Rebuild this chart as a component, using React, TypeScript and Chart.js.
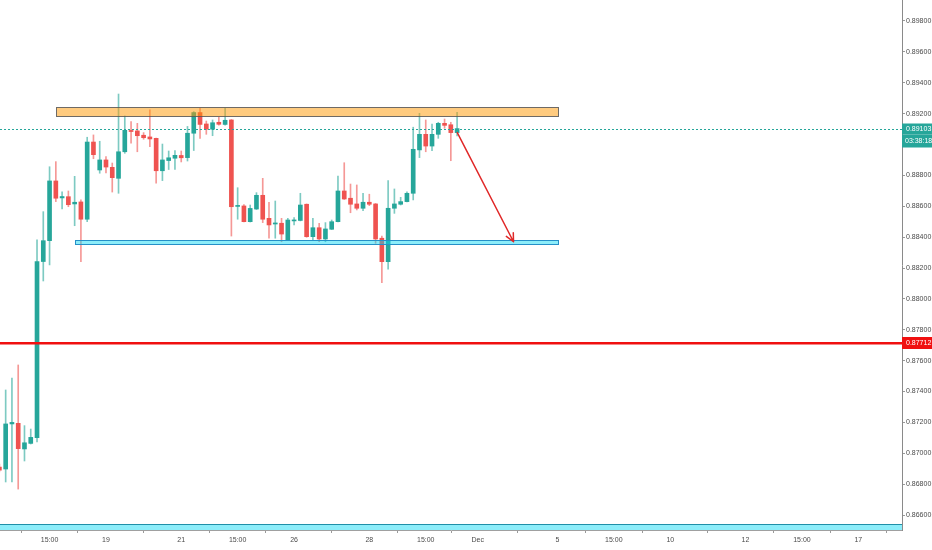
import React, { useEffect, useRef } from 'react';
import { Chart, registerables } from 'chart.js';

Chart.register(...registerables);

// ---- Data (4H candles) ----
const opens = [
  0.86910, 0.86898, 0.87190, 0.87194, 0.87028, 0.87064, 0.87101, 0.88242, 0.88377, 0.88764,
  0.88654, 0.88662, 0.88615, 0.88628, 0.88516, 0.89016, 0.88835, 0.88900, 0.88852, 0.88781,
  0.88953, 0.89091, 0.89088, 0.89060, 0.89049, 0.89040, 0.88830, 0.88896, 0.88911, 0.88929,
  0.88915, 0.89073, 0.89207, 0.89133, 0.89099, 0.89144, 0.89130, 0.89159, 0.88599, 0.88602,
  0.88500, 0.88582, 0.88671, 0.88522, 0.88485, 0.88490, 0.88381, 0.88505, 0.88508, 0.88613,
  0.88403, 0.88461, 0.88388, 0.88451, 0.88500, 0.88699, 0.88652, 0.88615, 0.88587, 0.88626,
  0.88615, 0.88393, 0.88241, 0.88587, 0.88613, 0.88630, 0.88684, 0.88965, 0.89066, 0.88990,
  0.89066, 0.89137, 0.89128, 0.89077,
];
const highs = [
  0.86930, 0.87410, 0.87487, 0.87572, 0.87179, 0.87157, 0.88382, 0.88565, 0.88856, 0.88889,
  0.88694, 0.88699, 0.88794, 0.88641, 0.89047, 0.89062, 0.89021, 0.88921, 0.88880, 0.89327,
  0.89185, 0.89148, 0.89137, 0.89077, 0.89224, 0.89042, 0.89003, 0.88958, 0.88960, 0.88958,
  0.89117, 0.89213, 0.89235, 0.89152, 0.89159, 0.89176, 0.89235, 0.89162, 0.88720, 0.88611,
  0.88608, 0.88688, 0.88781, 0.88626, 0.88634, 0.88522, 0.88522, 0.88526, 0.88684, 0.88615,
  0.88522, 0.88490, 0.88494, 0.88511, 0.88796, 0.88882, 0.88744, 0.88738, 0.88684, 0.88678,
  0.88618, 0.88407, 0.88766, 0.88712, 0.88658, 0.88694, 0.89112, 0.89202, 0.89159, 0.89133,
  0.89144, 0.89165, 0.89144, 0.89209,
];
const lows = [
  0.86880, 0.86814, 0.86814, 0.86768, 0.86950, 0.87060, 0.87073, 0.88116, 0.88220, 0.88630,
  0.88582, 0.88597, 0.88474, 0.88241, 0.88500, 0.88908, 0.88814, 0.88816, 0.88692, 0.88684,
  0.88943, 0.89008, 0.88953, 0.89034, 0.88986, 0.88749, 0.88766, 0.88838, 0.88838, 0.88887,
  0.88893, 0.88961, 0.89040, 0.89066, 0.89057, 0.89126, 0.89126, 0.88407, 0.88516, 0.88498,
  0.88498, 0.88579, 0.88494, 0.88393, 0.88393, 0.88370, 0.88378, 0.88479, 0.88505, 0.88399,
  0.88377, 0.88370, 0.88370, 0.88449, 0.88498, 0.88644, 0.88558, 0.88576, 0.88571, 0.88604,
  0.88360, 0.88105, 0.88192, 0.88554, 0.88608, 0.88628, 0.88641, 0.88915, 0.88953, 0.88960,
  0.89040, 0.89105, 0.88895, 0.89055,
];
const closes = [
  0.86890, 0.87190, 0.87200, 0.87030, 0.87068, 0.87103, 0.88241, 0.88377, 0.88764, 0.88652,
  0.88663, 0.88610, 0.88626, 0.88516, 0.89016, 0.88934, 0.88900, 0.88854, 0.88785, 0.88953,
  0.89092, 0.89084, 0.89057, 0.89044, 0.89036, 0.88830, 0.88900, 0.88914, 0.88930, 0.88914,
  0.89073, 0.89207, 0.89130, 0.89099, 0.89141, 0.89131, 0.89157, 0.88597, 0.88603, 0.88500,
  0.88586, 0.88671, 0.88516, 0.88479, 0.88492, 0.88420, 0.88511, 0.88509, 0.88608, 0.88403,
  0.88461, 0.88388, 0.88453, 0.88500, 0.88699, 0.88647, 0.88613, 0.88587, 0.88626, 0.88613,
  0.88388, 0.88241, 0.88587, 0.88615, 0.88630, 0.88684, 0.88969, 0.89066, 0.88990, 0.89066,
  0.89137, 0.89124, 0.89077, 0.89103,
];

const xTickPositions = [8, 17, 29, 38, 47, 59, 68, 76.3, 89, 98, 107, 119, 128, 137];
const xTickLabels = ['15:00', '19', '21', '15:00', '26', '28', '15:00', 'Dec', '5', '15:00', '10', '12', '15:00', '17'];
const yTickValues = [
  0.866, 0.868, 0.870, 0.872, 0.874, 0.876, 0.878, 0.880, 0.882,
  0.884, 0.886, 0.888, 0.890, 0.892, 0.894, 0.896, 0.898,
];

// drawings: [fromIndex, toIndex, topPrice, bottomPrice]
const resistanceZone = [9.07, 89.04, 0.8924, 0.89187];
const supportZone = [12.1, 89.04, 0.88381, 0.88354];
const bottomBandPrices = [0.86542, 0.8640];
const redLevel = 0.87712;
const lastPrice = 0.89103;
const countdownText = '03:38:18';
const arrowFrom = [73.03, 0.89077];
const arrowTo = [82.0, 0.8837];

const X_MIN = 0.0957;
const X_MAX = 143.96;
const Y_MIN = 0.86503;
const Y_MAX = 0.89936;

const UP = '#26a69a';
const DOWN = '#ef5350';
const FONT = '"Liberation Sans", Arial, sans-serif';

const overlayPlugin = {
  id: 'overlay',
  afterDatasetsDraw(chart: any) {
    const { ctx, chartArea: a, scales } = chart;
    const x = scales.x;
    const y = scales.y;
    ctx.save();
    ctx.beginPath();
    ctx.rect(a.left, a.top, a.right - a.left, a.bottom - a.top);
    ctx.clip();

    const rectZone = (x0: number, x1: number, p0: number, p1: number, fill: string, stroke: string) => {
      const L = Math.round(x.getPixelForValue(x0)) + 0.5;
      const R = Math.round(x.getPixelForValue(x1)) + 0.5;
      const T = Math.round(y.getPixelForValue(p0)) + 0.5;
      const B = Math.round(y.getPixelForValue(p1)) + 0.5;
      ctx.fillStyle = fill;
      ctx.fillRect(L, T, R - L, B - T);
      ctx.strokeStyle = stroke;
      ctx.lineWidth = 1;
      ctx.strokeRect(L, T, R - L, B - T);
    };

    // bottom cyan band
    rectZone(x.min - 5, x.max + 5, bottomBandPrices[0], bottomBandPrices[1], 'rgba(0, 214, 245, 0.45)', '#1f8fa8');
    // resistance zone (orange)
    rectZone(resistanceZone[0], resistanceZone[1], resistanceZone[2], resistanceZone[3], 'rgba(255, 152, 0, 0.5)', 'rgba(85, 85, 85, 0.85)');
    // support zone (cyan)
    rectZone(supportZone[0], supportZone[1], supportZone[2], supportZone[3], 'rgba(0, 214, 245, 0.45)', '#2590c8');

    // dotted last price line
    const lp = Math.round(y.getPixelForValue(lastPrice)) + 0.5;
    ctx.strokeStyle = UP;
    ctx.lineWidth = 1;
    ctx.setLineDash([2, 2]);
    ctx.beginPath();
    ctx.moveTo(a.left, lp);
    ctx.lineTo(a.right, lp);
    ctx.stroke();
    ctx.setLineDash([]);

    // red horizontal level
    const rl = y.getPixelForValue(redLevel);
    ctx.strokeStyle = '#f01010';
    ctx.lineWidth = 2.5;
    ctx.beginPath();
    ctx.moveTo(a.left, rl);
    ctx.lineTo(a.right, rl);
    ctx.stroke();

    // arrow
    const ax0 = x.getPixelForValue(arrowFrom[0]);
    const ay0 = y.getPixelForValue(arrowFrom[1]);
    const ax1 = x.getPixelForValue(arrowTo[0]);
    const ay1 = y.getPixelForValue(arrowTo[1]);
    ctx.strokeStyle = '#e02828';
    ctx.lineWidth = 1.5;
    ctx.lineCap = 'round';
    ctx.beginPath();
    ctx.moveTo(ax0, ay0);
    ctx.lineTo(ax1, ay1);
    const ang = Math.atan2(ay1 - ay0, ax1 - ax0);
    const head = 9;
    for (const d of [Math.PI - 0.45, Math.PI + 0.45]) {
      ctx.moveTo(ax1, ay1);
      ctx.lineTo(ax1 + head * Math.cos(ang + d), ay1 + head * Math.sin(ang + d));
    }
    ctx.stroke();
    ctx.restore();
  },
  afterDraw(chart: any) {
    const { ctx, chartArea: a, scales } = chart;
    const y = scales.y;
    const W = chart.width;
    ctx.save();
    ctx.font = `7px ${FONT}`;
    ctx.textBaseline = 'middle';
    ctx.textAlign = 'left';
    // last price label + countdown
    const lp = Math.round(y.getPixelForValue(lastPrice));
    ctx.fillStyle = UP;
    ctx.fillRect(a.right, lp - 5.5, W - a.right, 11);
    ctx.fillRect(a.right, lp + 5.5, W - a.right, 13);
    ctx.fillStyle = '#ffffff';
    ctx.fillText(lastPrice.toFixed(5), a.right + 4, lp + 0.5);
    ctx.fillText(countdownText, a.right + 3, lp + 12);
    // red level label
    const rl = Math.round(y.getPixelForValue(redLevel));
    ctx.fillStyle = '#f01010';
    ctx.fillRect(a.right, rl - 6, W - a.right, 12);
    ctx.fillStyle = '#ffffff';
    ctx.fillText(redLevel.toFixed(5), a.right + 4, rl + 0.5);
    ctx.restore();
  },
};

export default function App() {
  const ref = useRef<HTMLCanvasElement | null>(null);

  useEffect(() => {
    document.body.style.margin = '0';
    document.body.style.background = '#ffffff';
    const canvas = ref.current;
    if (!canvas) return;

    const isUp = closes.map((c, i) => c >= opens[i]);
    const bodyColors = isUp.map((u) => (u ? UP : DOWN));
    const wickColors = isUp.map((u) => (u ? 'rgba(38,166,154,0.6)' : 'rgba(239,83,80,0.6)'));

    const chart = new Chart(canvas, {
      type: 'bar',
      data: {
        datasets: [
          {
            label: 'body',
            data: opens.map((o, i) => ({ x: i, y: [o, closes[i]] })) as any,
            backgroundColor: bodyColors,
            borderWidth: 0,
            barThickness: 4,
            minBarLength: 1,
            grouped: false,
            order: 0,
          } as any,
          {
            label: 'wick',
            data: lows.map((l, i) => ({ x: i, y: [l, highs[i]] })) as any,
            backgroundColor: wickColors,
            borderWidth: 0,
            barThickness: 1,
            grouped: false,
            order: 1,
          } as any,
        ],
      },
      options: {
        animation: false,
        responsive: false,
        events: [],
        layout: { padding: 0 },
        plugins: {
          legend: { display: false },
          tooltip: { enabled: false },
        },
        scales: {
          x: {
            type: 'linear',
            min: X_MIN,
            max: X_MAX,
            offset: false,
            grid: { display: true, drawOnChartArea: false, tickLength: 3, color: '#9a9a9a' },
            border: { display: true, color: '#a0a0a0' },
            afterBuildTicks: (scale: any) => {
              scale.ticks = xTickPositions.map((v) => ({ value: v }));
            },
            afterFit: (scale: any) => {
              scale.height = 20;
              scale.paddingLeft = 0;
              scale.paddingRight = 0;
              scale.paddingTop = 0;
              scale.paddingBottom = 0;
            },
            ticks: {
              autoSkip: false,
              maxRotation: 0,
              padding: 3,
              color: '#4a4a4a',
              font: { family: FONT, size: 7 },
              callback: (_v: any, i: number) => xTickLabels[i],
            },
          },
          y: {
            type: 'linear',
            position: 'right',
            min: Y_MIN,
            max: Y_MAX,
            grid: { display: true, drawOnChartArea: false, tickLength: 3, color: '#9a9a9a' },
            border: { display: true, color: '#8a8a8a' },
            afterBuildTicks: (scale: any) => {
              scale.ticks = yTickValues.map((v) => ({ value: v }));
            },
            afterFit: (scale: any) => {
              scale.width = 30;
              scale.paddingLeft = 0;
              scale.paddingRight = 0;
              scale.paddingTop = 0;
              scale.paddingBottom = 0;
            },
            ticks: {
              autoSkip: false,
              padding: 1,
              color: '#4a4a4a',
              font: { family: FONT, size: 7 },
              callback: (v: any) => Number(v).toFixed(5),
            },
          },
        },
      } as any,
      plugins: [overlayPlugin],
    });

    return () => chart.destroy();
  }, []);

  return (
    <div style={{ width: 932, height: 550, position: 'relative', background: '#ffffff' }}>
      <canvas ref={ref} width={932} height={550} style={{ display: 'block' }} />
    </div>
  );
}
